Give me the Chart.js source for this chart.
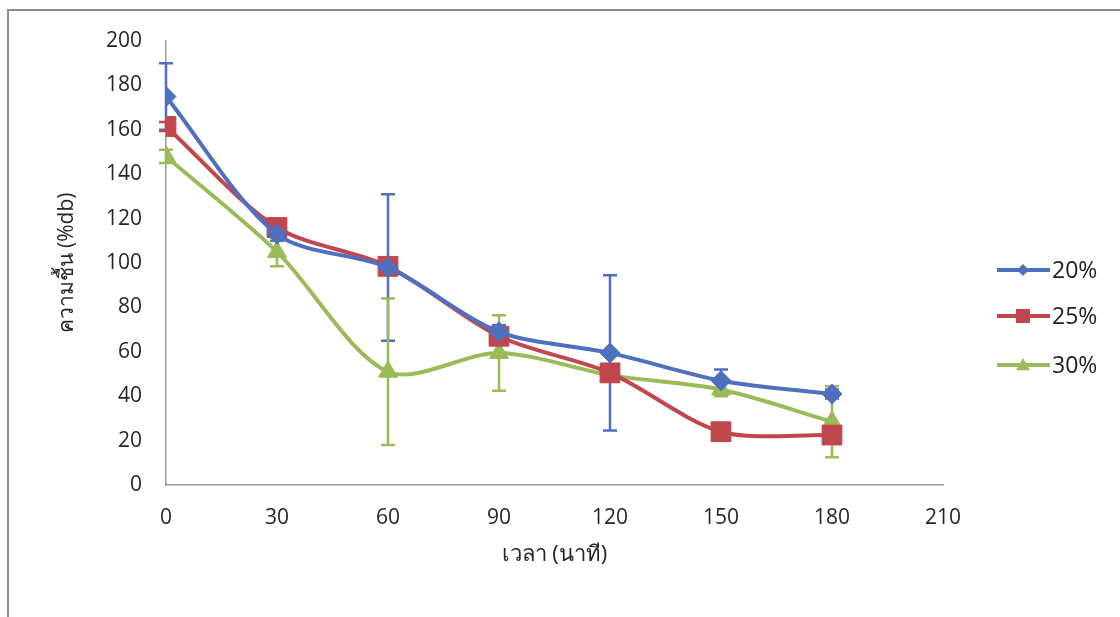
<!DOCTYPE html>
<html>
<head>
<meta charset="utf-8">
<script src="https://cdn.jsdelivr.net/npm/chart.js@4.4.1/dist/chart.umd.min.js"></script>
<style>
html,body{margin:0;padding:0;background:#fff;}
#wrap{position:relative;width:1120px;height:617px;overflow:hidden;background:#fff;}
#frame{position:absolute;left:7px;top:9px;width:1300px;height:800px;border-left:2px solid #8c8c8c;border-top:2px solid #8c8c8c;}
canvas{position:absolute;left:0;top:0;}
</style>
</head>
<body>
<div id="wrap"><div id="frame"></div><canvas id="c" width="1120" height="617"></canvas></div>
<script>
const times = [0, 30, 60, 90, 120, 150, 180];
const seriesNames = ['20%', '25%', '30%'];
const moisture20 = [175, 113, 98, 69, 59.5, 47, 41];
const moisture25 = [161.5, 116, 98.5, 67, 50.5, 24, 22.5];
const moisture30 = [148, 105, 51, 59.5, 49.5, 43, 28.5];
const err20 = [15, 3, 33, 3, 35, 5, 2];
const err25 = [2, 2, 2, 2, 2, 2, 2];
const err30 = [3, 6.5, 33, 17, 3, 3, 16];
const xTicks = [0, 30, 60, 90, 120, 150, 180, 210];
const yTicks = [0, 20, 40, 60, 80, 100, 120, 140, 160, 180, 200];
const xTitle = 'เวลา (นาที)';
const yTitle = 'ความชื้น (%db)';

const colors = ['#4f6fbf', '#c0474d', '#9bbb59'];
const styles = ['rectRot', 'rect', 'triangle'];
const radii = [10, 14, 11];
const legendSizes = [6, 7, 7];
const values = [moisture20, moisture25, moisture30];
const errs = [err20, err25, err30];
const FONT = "'Open Sans', 'Noto Sans', 'DejaVu Sans', sans-serif";

const datasets = values.map((vals, i) => ({
  label: seriesNames[i],
  data: times.map((t, j) => ({x: t, y: vals[j]})),
  errors: errs[i],
  borderColor: colors[i],
  backgroundColor: colors[i],
  pointBackgroundColor: colors[i],
  pointBorderColor: colors[i],
  pointStyle: styles[i],
  pointRadius: radii[i],
  pointBorderWidth: 1,
  borderWidth: 4,
  tension: 0.3,
  fill: false
}));

const errorBars = {
  id: 'errorBars',
  beforeDatasetsDraw(chart) {
    const ctx = chart.ctx;
    const xs = chart.scales.x, ys = chart.scales.y;
    chart.data.datasets.forEach((ds) => {
      ctx.save();
      ctx.strokeStyle = ds.borderColor;
      ctx.lineWidth = 2.5;
      ds.data.forEach((p, j) => {
        const e = ds.errors[j];
        const px = xs.getPixelForValue(p.x);
        const top = ys.getPixelForValue(p.y + e);
        const bot = ys.getPixelForValue(p.y - e);
        ctx.beginPath();
        ctx.moveTo(px, top); ctx.lineTo(px, bot);
        ctx.moveTo(px - 7, top); ctx.lineTo(px + 7, top);
        ctx.moveTo(px - 7, bot); ctx.lineTo(px + 7, bot);
        ctx.stroke();
      });
      ctx.restore();
    });
  }
};

function marker(ctx, style, x, y, r) {
  ctx.beginPath();
  if (style === 'rectRot') {
    ctx.moveTo(x, y - r); ctx.lineTo(x + r, y); ctx.lineTo(x, y + r); ctx.lineTo(x - r, y);
  } else if (style === 'rect') {
    ctx.rect(x - r, y - r, 2 * r, 2 * r);
  } else {
    ctx.moveTo(x, y - r); ctx.lineTo(x + r, y + r * 0.75); ctx.lineTo(x - r, y + r * 0.75);
  }
  ctx.closePath();
  ctx.fill();
}

const customLegend = {
  id: 'customLegend',
  afterDraw(chart) {
    const ctx = chart.ctx;
    const rows = [270, 316, 365];
    chart.data.datasets.forEach((ds, i) => {
      const y = rows[i];
      ctx.save();
      ctx.strokeStyle = ds.borderColor;
      ctx.fillStyle = ds.borderColor;
      ctx.lineWidth = 4;
      ctx.beginPath();
      ctx.moveTo(997, y); ctx.lineTo(1050, y);
      ctx.stroke();
      marker(ctx, ds.pointStyle, 1023, y, legendSizes[i]);
      ctx.fillStyle = '#1e1e1e';
      ctx.font = '23px ' + FONT;
      ctx.textBaseline = 'middle';
      ctx.textAlign = 'left';
      ctx.fillText(ds.label, 1052, y + 1);
      ctx.restore();
    });
  }
};

new Chart(document.getElementById('c'), {
  type: 'line',
  data: { datasets },
  options: {
    responsive: false,
    animation: false,
    devicePixelRatio: 1,
    layout: { padding: { left: 8, top: 41, right: 177, bottom: 0 } },
    plugins: { legend: { display: false }, tooltip: { enabled: false } },
    scales: {
      x: {
        type: 'linear', min: 0, max: 210,
        afterFit(s) { s.height = 132; },
        afterBuildTicks(s) { s.ticks = xTicks.map(v => ({value: v})); },
        grid: { display: false, drawTicks: false },
        border: { display: true, color: '#9a9a9a', width: 1.5 },
        ticks: { padding: 20, color: '#262626', font: { family: FONT, size: 21 } },
        title: { display: true, text: xTitle, color: '#262626', font: { family: FONT, size: 22 }, padding: { top: 0, bottom: 49 } }
      },
      y: {
        min: 0, max: 200,
        afterFit(s) { s.width = 158; },
        afterBuildTicks(s) { s.ticks = yTicks.map(v => ({value: v})); },
        grid: { display: false, drawTicks: false },
        border: { display: true, color: '#9a9a9a', width: 1.5 },
        ticks: { padding: 24, color: '#262626', font: { family: FONT, size: 21 } },
        title: { display: true, text: yTitle, color: '#262626', font: { family: FONT, size: 21 }, padding: { top: 46, bottom: 0 } }
      }
    }
  },
  plugins: [errorBars, customLegend]
});
</script>
</body>
</html>
